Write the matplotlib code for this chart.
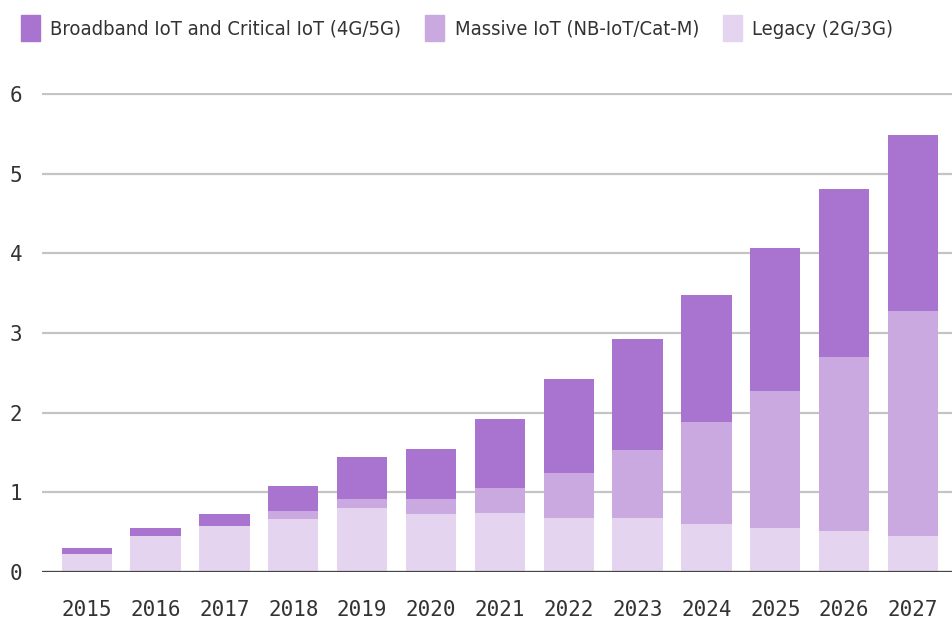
import matplotlib.pyplot as plt
from matplotlib.patches import Patch

# IoT connections (billions) by technology
years = ["2015", "2016", "2017", "2018", "2019", "2020", "2021",
         "2022", "2023", "2024", "2025", "2026", "2027"]
legacy = [0.23, 0.45, 0.58, 0.67, 0.80, 0.73, 0.74, 0.68, 0.68, 0.61, 0.55, 0.52, 0.46]
massive = [0.00, 0.01, 0.00, 0.10, 0.12, 0.19, 0.31, 0.56, 0.85, 1.27, 1.72, 2.18, 2.81]
broadband = [0.07, 0.09, 0.15, 0.31, 0.53, 0.62, 0.87, 1.18, 1.39, 1.60, 1.80, 2.10, 2.21]

series_names = ["Broadband IoT and Critical IoT (4G/5G)",
                "Massive IoT (NB-IoT/Cat-M)",
                "Legacy (2G/3G)"]
c_broad = "#a974cf"
c_mass = "#caa9e0"
c_leg = "#e5d4f0"

fig = plt.figure(figsize=(9.53, 6.24), dpi=100)
ax = fig.add_axes([0.044, 0.083, 0.956, 0.768])

x = range(len(years))
bottom2 = [l + m for l, m in zip(legacy, massive)]
ax.bar(x, legacy, width=0.73, color=c_leg, zorder=2)
ax.bar(x, massive, width=0.73, bottom=legacy, color=c_mass, zorder=2)
ax.bar(x, broadband, width=0.73, bottom=bottom2, color=c_broad, zorder=2)

ax.set_xlim(-0.65, 12.58)
ax.set_ylim(0, 6.01)
ax.set_yticks(range(0, 7))
ax.set_xticks(list(x))
ax.set_xticklabels(years)
ax.yaxis.grid(True, color="#c4c4c4", linewidth=1.6, zorder=0)
ax.axhline(0, color="#444444", linewidth=1.6, zorder=3)
for s in ax.spines.values():
    s.set_visible(False)
ax.tick_params(length=0, labelsize=15, labelcolor="#333333")
ax.tick_params(axis="x", pad=20)
ax.tick_params(axis="y", pad=14)
for lbl in ax.get_xticklabels() + ax.get_yticklabels():
    lbl.set_fontfamily("DejaVu Sans Mono")

handles = [Patch(color=c_broad), Patch(color=c_mass), Patch(color=c_leg)]
fig.legend(handles, series_names, loc="upper left", bbox_to_anchor=(0.003, 1.005),
           ncol=3, frameon=False, handlelength=0.95, handleheight=1.6,
           handletextpad=0.5, columnspacing=1.2,
           prop={"family": "DejaVu Sans", "stretch": "condensed", "size": 14.5},
           labelcolor="#333333")

fig.savefig("out.png", dpi=100)
